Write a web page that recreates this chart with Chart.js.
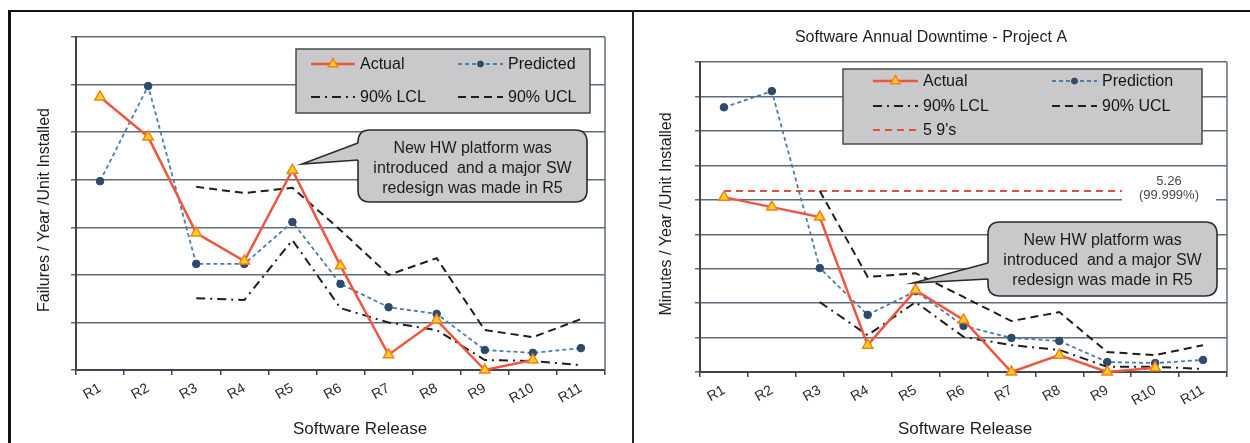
<!DOCTYPE html>
<html>
<head>
<meta charset="utf-8">
<script src="https://cdn.jsdelivr.net/npm/chart.js@4.4.1/dist/chart.umd.min.js"></script>
<style>
  html, body { margin: 0; padding: 0; background: #fff; width: 1250px; height: 443px; overflow: hidden; }
  #frameTop  { position: absolute; left: 8px;   top: 10px; width: 1242px; height: 2px;   background: #111; }
  #frameLeft { position: absolute; left: 8px;   top: 10px; width: 3px;    height: 433px; background: #111; }
  #frameMid  { position: absolute; left: 632px; top: 10px; width: 2px;    height: 433px; background: #222; }
  .panel { position: absolute; top: 13px; height: 430px; }
  #p1 { left: 11px;  width: 621px; }
  #p2 { left: 635px; width: 615px; }
  canvas { display: block; }
</style>
</head>
<body>
<div id="frameTop"></div>
<div id="frameLeft"></div>
<div id="frameMid"></div>
<div class="panel" id="p1"><canvas id="failures" width="621" height="430"></canvas></div>
<div class="panel" id="p2"><canvas id="downtime" width="615" height="430"></canvas></div>

<script>
// ---- data -------------------------------------------------------------
const categories = ['R1', 'R2', 'R3', 'R4', 'R5', 'R6', 'R7', 'R8', 'R9', 'R10', 'R11'];

// Failures / Year / Unit Installed
const failuresActual    = [5.74, 4.90, 2.88, 2.29, 4.20, 2.19, 0.32, 1.05, 0.00, 0.21, null];
const failuresPredicted = [3.97, 5.97, 2.23, 2.23, 3.11, 1.81, 1.32, 1.18, 0.42, 0.36, 0.46];
const failuresUCL       = [null, null, 3.85, 3.72, 3.83, 2.94, 2.00, 2.35, 0.84, 0.69, 1.07];
const failuresLCL       = [null, null, 1.51, 1.47, 2.73, 1.30, 1.00, 0.84, 0.21, 0.19, 0.10];

// Minutes / Year / Unit Installed
const downtimeActual     = [5.08, 4.79, 4.50, 0.78, 2.38, 1.51, 0.00, 0.49, 0.00, 0.12, null];
const downtimePrediction = [7.69, 8.16, 3.02, 1.66, 2.35, 1.34, 0.99, 0.90, 0.29, 0.26, 0.35];
const downtimeUCL        = [null, null, 5.26, 2.76, 2.87, 2.18, 1.48, 1.74, 0.58, 0.49, 0.78];
const downtimeLCL        = [null, null, 2.03, 1.07, 2.03, 1.02, 0.78, 0.64, 0.15, 0.15, 0.09];
const downtimeFiveNines  = [5.26, 5.26, 5.26, 5.26, 5.26, 5.26, 5.26, 5.26, 5.26, 5.26, 5.26];

const fiveNinesNote = ['5.26', '(99.999%)'];
const calloutLines = ['New HW platform was', 'introduced  and a major SW', 'redesign was made in R5'];

// ---- styling helpers ----------------------------------------------------
const FONT = '"Liberation Sans", Arial, sans-serif';
const GRID = '#5d6c7a';

function actualSet(label, data) {
  return { label, data, borderColor: '#ee5640', borderWidth: 2.5, pointStyle: 'triangle',
    pointRadius: 6, pointBackgroundColor: '#ffd21c', pointBorderColor: '#f4801e',
    pointBorderWidth: 1.5, tension: 0, clip: false };
}
function predictedSet(label, data) {
  return { label, data, borderColor: '#4d7ca8', borderWidth: 1.8, borderDash: [4, 3],
    pointStyle: 'circle', pointRadius: 3.8, pointBackgroundColor: '#2f4b6c',
    pointBorderColor: '#2f4b6c', pointBorderWidth: 1, tension: 0, clip: false };
}
function uclSet(label, data) {
  return { label, data, borderColor: '#1e1e1e', borderWidth: 2, borderDash: [8, 5],
    pointRadius: 0, tension: 0 };
}
function lclSet(label, data) {
  return { label, data, borderColor: '#1e1e1e', borderWidth: 2, borderDash: [9, 5, 2, 5],
    pointRadius: 0, tension: 0 };
}
function ninesSet(label, data) {
  return { label, data, borderColor: '#e4503e', borderWidth: 2, borderDash: [7, 5],
    pointRadius: 0, tension: 0 };
}

function roundRect(ctx, x, y, w, h, r) {
  ctx.beginPath();
  ctx.moveTo(x + r, y);
  ctx.lineTo(x + w - r, y);
  ctx.quadraticCurveTo(x + w, y, x + w, y + r);
  ctx.lineTo(x + w, y + h - r);
  ctx.quadraticCurveTo(x + w, y + h, x + w - r, y + h);
  ctx.lineTo(x + r, y + h);
  ctx.quadraticCurveTo(x, y + h, x, y + h - r);
  ctx.lineTo(x, y + r);
  ctx.quadraticCurveTo(x, y, x + r, y);
  ctx.closePath();
}

function drawSample(ctx, ds, x0, x1, y) {
  ctx.save();
  ctx.strokeStyle = ds.borderColor;
  ctx.lineWidth = ds.borderWidth;
  ctx.setLineDash(ds.borderDash || []);
  ctx.beginPath(); ctx.moveTo(x0, y); ctx.lineTo(x1, y); ctx.stroke();
  ctx.setLineDash([]);
  if (ds.pointRadius > 0) {
    ctx.fillStyle = ds.pointBackgroundColor;
    ctx.strokeStyle = ds.pointBorderColor;
    ctx.lineWidth = ds.pointBorderWidth;
    Chart.helpers.drawPoint(ctx, { pointStyle: ds.pointStyle, radius: ds.pointStyle === 'circle' ? 3 : 5.5,
      borderWidth: ds.pointBorderWidth, rotation: 0 }, (x0 + x1) / 2, y);
  }
  ctx.restore();
}

// Draws legend box, callout, axis captions and the plot frame.
const decor = {
  id: 'decor',
  afterDatasetsDraw(chart, args, o) {
    const ctx = chart.ctx;
    const a = chart.chartArea;
    const dsets = chart.data.datasets;

    // right edge of the plot
    ctx.save();
    ctx.strokeStyle = GRID; ctx.lineWidth = 1.5;
    ctx.beginPath(); ctx.moveTo(a.right, a.top); ctx.lineTo(a.right, a.bottom); ctx.stroke();
    ctx.restore();

    // value note on the 5 9's line
    if (o.note) {
      const n = o.note;
      ctx.save();
      ctx.fillStyle = '#fff';
      ctx.fillRect(n.x, n.y, n.w, n.h);
      ctx.fillStyle = '#4a4a4a';
      ctx.font = '13px ' + FONT;
      ctx.textAlign = 'center'; ctx.textBaseline = 'middle';
      fiveNinesNote.forEach((t, i) => ctx.fillText(t, n.x + n.w / 2, n.y + 11 + i * 14));
      ctx.restore();
    }

    // legend
    const L = o.legend;
    ctx.save();
    ctx.fillStyle = '#c9c9cb';
    ctx.fillRect(L.x, L.y, L.w, L.h);
    ctx.strokeStyle = '#4a4a4a'; ctx.lineWidth = 1.5;
    ctx.strokeRect(L.x, L.y, L.w, L.h);
    ctx.font = '16px ' + FONT;
    ctx.textAlign = 'left'; ctx.textBaseline = 'middle';
    L.items.forEach(it => {
      const ds = dsets[it.i];
      drawSample(ctx, ds, it.x0, it.x1, it.y);
      ctx.fillStyle = '#151515';
      ctx.fillText(ds.label, it.x1 + 5, it.y + 1);
    });
    ctx.restore();

    // callout
    const C = o.callout;
    ctx.save();
    ctx.fillStyle = '#c9c9cb';
    ctx.strokeStyle = '#2b2b2b'; ctx.lineWidth = 1.6;
    roundRect(ctx, C.x, C.y, C.w, C.h, 12);
    ctx.fill(); ctx.stroke();
    // pointer
    ctx.beginPath();
    ctx.moveTo(C.x + 1, C.py0);
    ctx.lineTo(C.tx, C.ty);
    ctx.lineTo(C.x + 1, C.py1);
    ctx.closePath();
    ctx.fill();
    ctx.beginPath();
    ctx.moveTo(C.x, C.py0); ctx.lineTo(C.tx, C.ty); ctx.lineTo(C.x, C.py1);
    ctx.stroke();
    ctx.fillStyle = '#1c1c1c';
    ctx.font = '16px ' + FONT;
    ctx.textAlign = 'center'; ctx.textBaseline = 'middle';
    calloutLines.forEach((t, i) => ctx.fillText(t, C.x + C.w / 2, C.y + 19 + i * 20));
    ctx.restore();

    // axis captions
    ctx.save();
    ctx.fillStyle = '#1e1e1e';
    ctx.textAlign = 'center'; ctx.textBaseline = 'middle';
    ctx.font = '17px ' + FONT;
    ctx.fillText(o.xCaption.text, o.xCaption.x, o.xCaption.y);
    ctx.font = '16px ' + FONT;
    ctx.translate(o.yCaption.x, o.yCaption.y);
    ctx.rotate(-Math.PI / 2);
    ctx.fillText(o.yCaption.text, 0, 0);
    ctx.restore();
  }
};

function scalesFor(yMax, yWidth, xHeight) {
  return {
    x: {
      type: 'category', offset: true,
      grid: { offset: true, drawOnChartArea: false, drawTicks: true, tickLength: 5, color: '#3b4652', lineWidth: 1.5 },
      border: { color: '#3b4652', width: 2 },
      ticks: { minRotation: 30, maxRotation: 30, autoSkip: false, color: '#2a2a2a', padding: 5,
        font: { family: FONT, size: 14 } },
      afterFit(s) { s.height = xHeight; }
    },
    y: {
      min: 0, max: yMax,
      ticks: { stepSize: 1, display: false },
      grid: { color: GRID, lineWidth: 1.5, drawTicks: true, tickLength: 5 },
      border: { color: '#3b4652', width: 2 },
      afterFit(s) { s.width = yWidth; }
    }
  };
}

// ---- left panel: failures ------------------------------------------------
const P1 = { x: 11, y: 13 };
new Chart(document.getElementById('failures'), {
  type: 'line',
  data: {
    labels: categories,
    datasets: [
      actualSet('Actual', failuresActual),
      predictedSet('Predicted', failuresPredicted),
      lclSet('90% LCL', failuresLCL),
      uclSet('90% UCL', failuresUCL)
    ]
  },
  options: {
    responsive: false, animation: false,
    layout: { padding: { left: 0, right: 27, top: 24, bottom: 0 } },
    scales: scalesFor(7, 65, 73),
    plugins: {
      legend: { display: false }, tooltip: { enabled: false }, title: { display: false },
      decor: {
        legend: { x: 296 - P1.x, y: 49 - P1.y, w: 294, h: 64, items: [
          { i: 0, x0: 311 - P1.x, x1: 355 - P1.x, y: 64 - P1.y },
          { i: 1, x0: 458 - P1.x, x1: 503 - P1.x, y: 64 - P1.y },
          { i: 2, x0: 311 - P1.x, x1: 355 - P1.x, y: 97 - P1.y },
          { i: 3, x0: 458 - P1.x, x1: 503 - P1.x, y: 97 - P1.y }
        ] },
        callout: { x: 358 - P1.x, y: 130 - P1.y, w: 229, h: 72, tx: 302 - P1.x, ty: 164 - P1.y,
          py0: 143 - P1.y, py1: 160 - P1.y },
        xCaption: { text: 'Software Release', x: 360 - P1.x, y: 429 - P1.y },
        yCaption: { text: 'Failures / Year /Unit Installed', x: 45 - P1.x, y: 210 - P1.y }
      }
    }
  },
  plugins: [decor]
});

// ---- right panel: downtime -----------------------------------------------
const P2 = { x: 635, y: 13 };
new Chart(document.getElementById('downtime'), {
  type: 'line',
  data: {
    labels: categories,
    datasets: [
      actualSet('Actual', downtimeActual),
      predictedSet('Prediction', downtimePrediction),
      lclSet('90% LCL', downtimeLCL),
      uclSet('90% UCL', downtimeUCL),
      ninesSet("5 9's", downtimeFiveNines)
    ]
  },
  options: {
    responsive: false, animation: false,
    layout: { padding: { left: 0, right: 23, top: 0, bottom: 0 } },
    scales: scalesFor(9, 65, 71),
    plugins: {
      legend: { display: false }, tooltip: { enabled: false },
      title: { display: true, text: 'Software Annual Downtime - Project A', color: '#1e1e1e',
        font: { family: FONT, size: 16, weight: 'normal' }, padding: { top: 15, bottom: 15 } },
      decor: {
        note: { x: 1122 - P2.x, y: 170 - P2.y, w: 94, h: 34 },
        legend: { x: 843 - P2.x, y: 69 - P2.y, w: 359, h: 75, items: [
          { i: 0, x0: 873 - P2.x, x1: 918 - P2.x, y: 81 - P2.y },
          { i: 1, x0: 1052 - P2.x, x1: 1097 - P2.x, y: 81 - P2.y },
          { i: 2, x0: 873 - P2.x, x1: 918 - P2.x, y: 106 - P2.y },
          { i: 3, x0: 1052 - P2.x, x1: 1097 - P2.x, y: 106 - P2.y },
          { i: 4, x0: 873 - P2.x, x1: 918 - P2.x, y: 130 - P2.y }
        ] },
        callout: { x: 988 - P2.x, y: 222 - P2.y, w: 229, h: 74, tx: 913 - P2.x, ty: 283 - P2.y,
          py0: 263 - P2.y, py1: 279 - P2.y },
        xCaption: { text: 'Software Release', x: 965 - P2.x, y: 429 - P2.y },
        yCaption: { text: 'Minutes / Year /Unit Installed', x: 667 - P2.x, y: 214 - P2.y }
      }
    }
  },
  plugins: [decor]
});
</script>
</body>
</html>
